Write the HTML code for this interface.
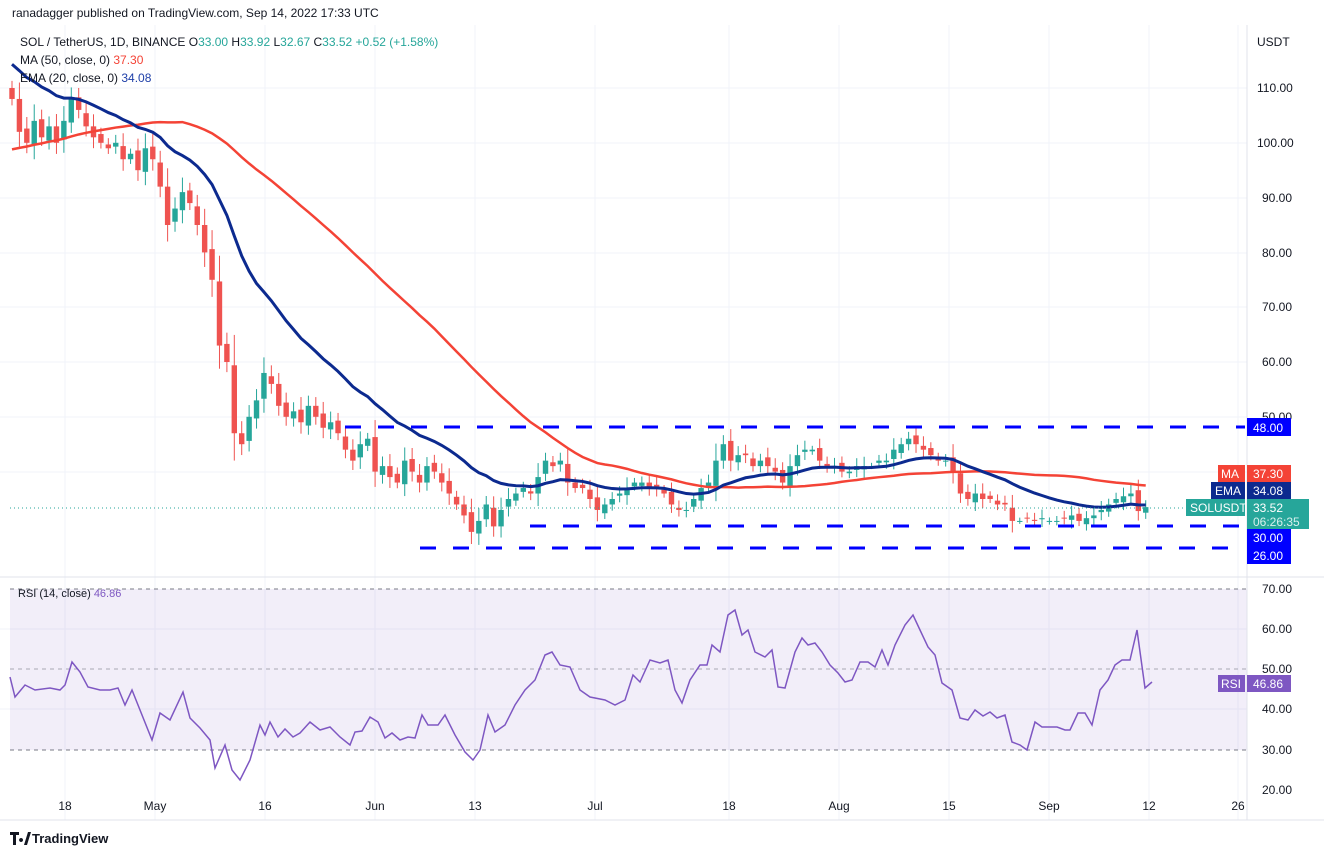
<!DOCTYPE html>
<html><head><meta charset="utf-8"><style>
body{margin:0;background:#fff;font-family:"Liberation Sans",sans-serif}
svg text{font-family:"Liberation Sans",sans-serif}
</style></head><body>
<svg id="s" width="1324" height="856" xmlns="http://www.w3.org/2000/svg">
<rect width="1324" height="856" fill="#fff"/>
<text x="12" y="17" font-size="12" fill="#131722">ranadagger published on TradingView.com, Sep 14, 2022 17:33 UTC</text>
<g id="grid" stroke="#f0f3fa" stroke-width="1"></g>
<rect x="10" y="589" width="1237" height="161" fill="#7e57c2" fill-opacity="0.1"/>
<line x1="10" y1="589" x2="1247" y2="589" stroke="#787b86" stroke-dasharray="4,4" stroke-width="1"/>
<line x1="10" y1="669" x2="1247" y2="669" stroke="#787b86" stroke-dasharray="4,4" stroke-width="1" opacity="0.6"/>
<line x1="10" y1="750" x2="1247" y2="750" stroke="#787b86" stroke-dasharray="4,4" stroke-width="1"/>
<g id="cd"></g>
<polyline id="ma" fill="none" stroke="#f44336" stroke-width="2.5"/>
<polyline id="ema" fill="none" stroke="#0c2a8f" stroke-width="3"/>
<g stroke="#0000ff" stroke-width="3" stroke-dasharray="16,17">
<line x1="345" y1="427" x2="1245" y2="427"/>
<line x1="530" y1="526" x2="1245" y2="526"/>
<line x1="420" y1="548" x2="1245" y2="548"/>
</g>
<line x1="10" y1="508" x2="1185" y2="508" stroke="#26a69a" stroke-dasharray="1,3"/>
<polyline id="rsi" fill="none" stroke="#7e57c2" stroke-width="1.5"/>
<line x1="0" y1="577" x2="1324" y2="577" stroke="#e0e3eb"/>
<line x1="1247" y1="25" x2="1247" y2="820" stroke="#e0e3eb"/>
<line x1="0" y1="820" x2="1324" y2="820" stroke="#e0e3eb"/>
<text x="20" y="46" font-size="12" fill="#131722">SOL / TetherUS, 1D, BINANCE  O<tspan fill="#26a69a">33.00</tspan>  H<tspan fill="#26a69a">33.92</tspan>  L<tspan fill="#26a69a">32.67</tspan>  C<tspan fill="#26a69a">33.52</tspan>  <tspan fill="#26a69a">+0.52 (+1.58%)</tspan></text>
<text x="20" y="64" font-size="12" fill="#131722">MA (50, close, 0)  <tspan fill="#f44336">37.30</tspan></text>
<text x="20" y="82" font-size="12" fill="#131722">EMA (20, close, 0)  <tspan fill="#1e3fa8">34.08</tspan></text>
<text x="18" y="597" font-size="11" fill="#131722">RSI (14, close)  <tspan fill="#7e57c2">46.86</tspan></text>
<g font-size="12" fill="#131722">
<text x="1257" y="46">USDT</text>
<text x="1257" y="92">110.00</text><text x="1257" y="147">100.00</text><text x="1262" y="202">90.00</text>
<text x="1262" y="257">80.00</text><text x="1262" y="311">70.00</text><text x="1262" y="366">60.00</text><text x="1262" y="421">50.00</text>
<text x="1262" y="593">70.00</text><text x="1262" y="633">60.00</text><text x="1262" y="673">50.00</text><text x="1262" y="713">40.00</text><text x="1262" y="754">30.00</text><text x="1262" y="794">20.00</text>
<text x="65" y="810" text-anchor="middle">18</text><text x="155" y="810" text-anchor="middle">May</text><text x="265" y="810" text-anchor="middle">16</text><text x="375" y="810" text-anchor="middle">Jun</text><text x="475" y="810" text-anchor="middle">13</text><text x="595" y="810" text-anchor="middle">Jul</text><text x="729" y="810" text-anchor="middle">18</text><text x="839" y="810" text-anchor="middle">Aug</text><text x="949" y="810" text-anchor="middle">15</text><text x="1049" y="810" text-anchor="middle">Sep</text><text x="1149" y="810" text-anchor="middle">12</text><text x="1238" y="810" text-anchor="middle">26</text>
</g>
<g font-size="12" fill="#fff">
<rect x="1247" y="418" width="44" height="18" fill="#0000ff"/><text x="1253" y="432">48.00</text>
<rect x="1218" y="465" width="27" height="17" fill="#f44336"/><text x="1221" y="478">MA</text>
<rect x="1247" y="465" width="44" height="17" fill="#f44336"/><text x="1253" y="478">37.30</text>
<rect x="1211" y="482" width="34" height="17" fill="#0c2a8f"/><text x="1215" y="495">EMA</text>
<rect x="1247" y="482" width="44" height="17" fill="#0c2a8f"/><text x="1253" y="495">34.08</text>
<rect x="1186" y="499" width="59" height="17" fill="#26a69a"/><text x="1190" y="512">SOLUSDT</text>
<rect x="1247" y="499" width="62" height="30" fill="#26a69a"/><text x="1253" y="512">33.52</text><text x="1253" y="526" fill="#d8f0ed">06:26:35</text>
<rect x="1247" y="529" width="44" height="35" fill="#0000ff"/><text x="1253" y="542">30.00</text><text x="1253" y="560">26.00</text>
<rect x="1247" y="675" width="44" height="17" fill="#7e57c2"/><text x="1253" y="688">46.86</text>
<rect x="1218" y="675" width="27" height="17" fill="#7e57c2"/><text x="1221" y="688">RSI</text>
</g>
<text x="32" y="843" font-size="13" fill="#131722" font-weight="bold">TradingView</text>
<path d="M10 832h9v3h-3v10h-3v-10h-3z M21 838a2 2 0 1 0 0.1 0 M24 845l4-13h3l-4 13z" fill="#131722"/>
</svg>
<script>
const NS="http://www.w3.org/2000/svg";
const Y=p=>88+(110-p)*5.48;
const g=document.getElementById('grid');
for(const gx of [65,155,265,375,475,595,729,839,949,1049,1149,1238]){const l=document.createElementNS(NS,'line');l.setAttribute('x1',gx);l.setAttribute('x2',gx);l.setAttribute('y1',25);l.setAttribute('y2',820);g.appendChild(l);}
for(const gy of [88,143,198,253,307,362,417,472,629,709]){const l=document.createElementNS(NS,'line');l.setAttribute('x1',0);l.setAttribute('x2',1247);l.setAttribute('y1',gy);l.setAttribute('y2',gy);g.appendChild(l);}
const c=[108,102,100,104,101,103,100,104,108,106,103,101,100,99,100,97,98,95,99,97,92,85,88,91,89,85,80,75,63,60,47,45,50,53,58,56,52,50,51,49,52,50,48,49,47,44,42,45,46,40,41,39,38,42,40,38,41,40,38,36,34,32,29,31,34,30,33,35,36,37,36,39,42,41,42,38,37,37,35,33,34,35,36,37,38,38,37,37,36,34,33,33,35,37,38,42,45,42,43,43,41,42,41,40,38,41,43,44,44,42,41,41,40,40,41,41,41,42,42,44,45,46,45,44,43,42,42,40,36,35,36,35,35,34,34,31,31,31.5,31,31.5,31,31,31.5,32,31,31.5,32,33,34,35,35.5,36,32.8,33.52];
const X=i=>12+i*7.41;
const cd=document.getElementById('cd');
let prev=112;
c.forEach((cl,i)=>{const o=i==0?110:(prev+(((i*7)%5)-2)*0.3);const up=cl>=o;const col=up?'#26a69a':'#ef5350';
const r=Math.max(0.6,Math.abs(cl-o)*0.35+0.6+((i*13)%4)*0.3);
const hi=Math.max(o,cl)+r, lo=Math.min(o,cl)-r*0.9;
const w=document.createElementNS(NS,'line');w.setAttribute('x1',X(i));w.setAttribute('x2',X(i));w.setAttribute('y1',Y(hi));w.setAttribute('y2',Y(lo));w.setAttribute('stroke',col);cd.appendChild(w);
const b=document.createElementNS(NS,'rect');b.setAttribute('x',X(i)-2.7);b.setAttribute('width',5.4);b.setAttribute('y',Y(Math.max(o,cl)));b.setAttribute('height',Math.max(1,Math.abs(Y(cl)-Y(o))));b.setAttribute('fill',col);cd.appendChild(b);prev=cl;});
const pad=[];for(let i=0;i<50;i++)pad.push(i<24?88:108);
const all=pad.concat(c);let ma=[];
for(let i=0;i<c.length;i++){let sm=0;for(let j=0;j<50;j++)sm+=all[i+50-j];ma.push(sm/50);}
document.getElementById('ma').setAttribute('points',ma.map((v,i)=>X(i)+','+Y(v)).join(' '));
let e=115,k=2/21,ep=[];c.forEach((v,i)=>{e=e+k*(v-e);ep.push(X(i)+','+Y(e));});
document.getElementById('ema').setAttribute('points',ep.join(' '));
const R="10:677 15:697 25:685 35:690 50:688 60:690 65:685 72:662 80:672 88:687 100:690 110:690 118:688 125:705 132:690 140:710 152:740 160:713 170:720 183:692 190:718 200:728 210:740 215:768 225:745 232:770 240:780 250:760 260:725 265:735 270:722 278:737 285:729 293:737 300:733 310:722 320:730 330:727 340:737 350:745 355:732 362:731 370:717 378:722 385:738 392:733 400:740 408:737 415:738 422:715 428:725 438:725 445:715 455:735 465:752 473:760 480:750 488:715 495:732 505:725 515:705 525:690 535:680 545:655 552:652 560:665 570:667 580:690 590:697 605:700 615:705 625:700 633:675 640:682 650:660 660:663 668:660 675:690 682:703 690:680 700:665 707:665 712:645 720:652 728:615 735:610 742:635 748:630 755:652 765:657 772:650 778:687 785:688 795:652 802:638 808:645 815:643 822:652 830:665 838:673 845:682 852:680 860:662 868:662 875:667 882:650 888:665 895:645 905:625 913:615 920:630 928:647 935:655 942:683 952:690 960:718 968:720 975:710 983:716 990:712 997:718 1005:715 1012:742 1020:745 1027:750 1035:722 1042:727 1050:727 1057:727 1065:730 1070:730 1078:713 1085:713 1092:725 1100:690 1108:680 1115:665 1122:660 1130:660 1137:630 1145:688 1152:682";
document.getElementById('rsi').setAttribute('points',R.split(' ').map(p=>p.replace(':',',')).join(' '));
</script>
</body></html>
